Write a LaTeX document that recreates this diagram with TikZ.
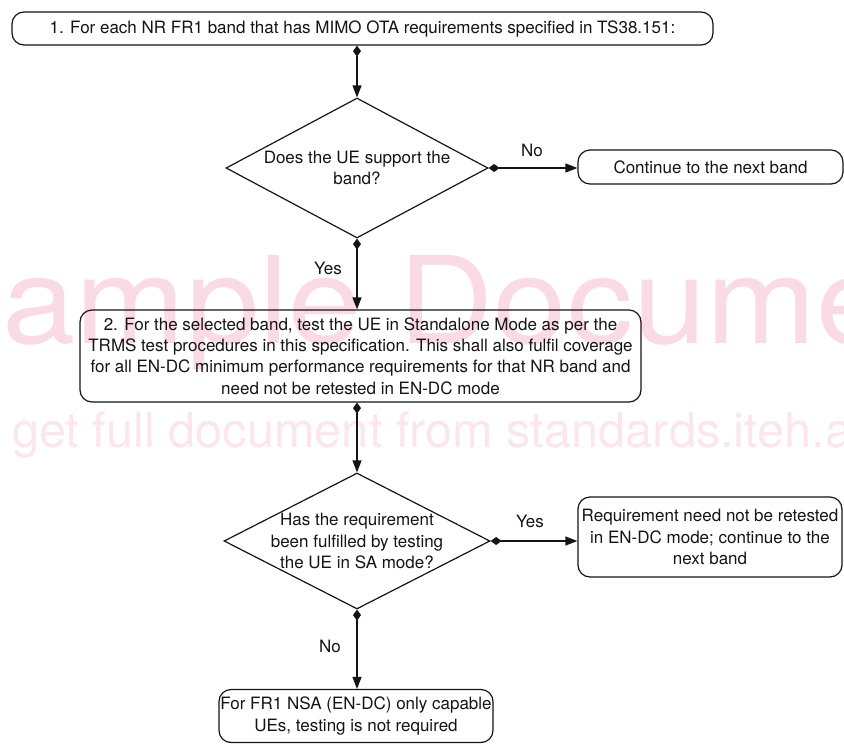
\documentclass[tikz,border=0pt]{standalone}
\usepackage{fontspec}
\setmainfont{TeX Gyre Heros}
\usetikzlibrary{arrows.meta,shapes.geometric}
\definecolor{wmA}{RGB}{250,219,229}
\definecolor{wmB}{RGB}{252,230,237}
\definecolor{ink}{RGB}{20,20,20}
\tikzset{
  x=1pt, y=-1pt,
  txt/.style={font=\fontsize{17}{21.4}\selectfont, text=ink, align=center, inner sep=0pt},
  rbox/.style={draw=ink, line width=1.2pt, rounded corners=12pt, inner sep=0pt, txt},
  dia/.style={draw=ink, line width=1.2pt, diamond, inner sep=0pt},
  conn/.style={draw=ink, line width=1.2pt, {Diamond[length=11pt,width=8pt]}-{Triangle[length=12pt,width=9pt]}},
  lbl/.style={txt},
  wm/.style={inner sep=0pt, anchor=base west}
}
\begin{document}
\begin{tikzpicture}
\useasboundingbox (0,0) rectangle (844,745);
\begin{scope}
\clip (0,0) rectangle (844,745);
\node[wm, text=wmA, font=\fontsize{121}{121}\selectfont] (wm1) at (-86,343) {\scalebox{1.09}[1]{Sample Document}};
\node[wm, text=wmB, font=\fontsize{48.7}{48.7}\selectfont] (wm2) at (12,447) {get full document from standards.iteh.ai};
\end{scope}

\node[rbox, minimum width=701pt, minimum height=33pt] (b1) at (362.5,28.5)
  {1. For each NR FR1 band that has MIMO OTA requirements specified in TS38.151:};
\node[dia, minimum width=262pt, minimum height=140pt] (d1) at (357,168) {};
\node[txt] (d1t) at (357,168) {Does the UE support the\\band?};
\node[rbox, minimum width=265pt, minimum height=34pt] (b2) at (710.5,167) {Continue to the next band};
\node[rbox, minimum width=561pt, minimum height=92pt] (b3) at (360.5,356)
  {2. For the selected band, test the UE in Standalone Mode as per the\\
   TRMS test procedures in this specification. This shall also fulfil coverage\\
   for all EN-DC minimum performance requirements for that NR band and\\
   need not be retested in EN-DC mode};
\node[dia, minimum width=266pt, minimum height=136pt] (d2) at (357,541) {};
\node[txt] (d2t) at (357,541) {Has the requirement\\been fulfilled by testing\\the UE in SA mode?};
\node[rbox, minimum width=264pt, minimum height=80pt] (b4) at (710,537)
  {Requirement need not be retested\\in EN-DC mode; continue to the\\next band};
\node[rbox, minimum width=274pt, minimum height=53pt] (b5) at (356,716)
  {For FR1 NSA (EN-DC) only capable\\UEs, testing is not required};

\draw[conn] (d1.north |- b1.south) -- (d1.north);
\draw[conn] (d1.east) -- (b2.west |- d1.east);
\draw[conn] (d1.south) -- (d1.south |- b3.north);
\draw[conn] (d1.south |- b3.south) -- (d2.north);
\draw[conn] (d2.east) -- (b4.west |- d2.east);
\draw[conn] (d2.south) -- (d2.south |- b5.north);

\node[lbl] (l1) at (532,150) {No};
\node[lbl] (l2) at (328,268) {Yes};
\node[lbl] (l3) at (530,521) {Yes};
\node[lbl] (l4) at (330,646) {No};
\end{tikzpicture}
\end{document}
